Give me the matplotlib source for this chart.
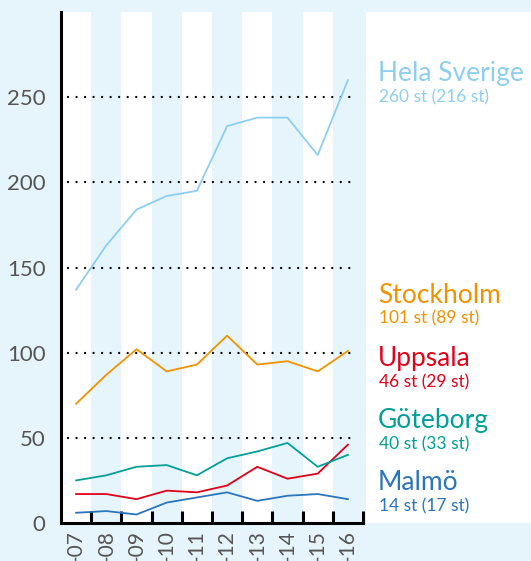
import numpy as np
import matplotlib.pyplot as plt

plt.rcParams['font.family'] = ['Lato', 'DejaVu Sans']

seasons = ["2006-07", "2007-08", "2008-09", "2009-10", "2010-11",
           "2011-12", "2012-13", "2013-14", "2014-15", "2015-16"]
hela = [137, 163, 184, 192, 195, 233, 238, 238, 216, 260]
stockholm = [70, 87, 102, 89, 93, 110, 93, 95, 89, 101]
uppsala = [17, 17, 14, 19, 18, 22, 33, 26, 29, 46]
goteborg = [25, 28, 33, 34, 28, 38, 42, 47, 33, 40]
malmo = [6, 7, 5, 12, 15, 18, 13, 16, 17, 14]

names = ["Hela Sverige", "Stockholm", "Uppsala", "Göteborg", "Malmö"]
series = [hela, stockholm, uppsala, goteborg, malmo]
colors = ["#8dcff0", "#f39200", "#e2001a", "#00a096", "#2a75bb"]
yticks = [0, 50, 100, 150, 200, 250]

bg = "#e6f4fc"
W, H = 531, 561

fig = plt.figure(figsize=(W / 100, H / 100), dpi=100, facecolor=bg)

# white panel behind the labels
fig.patches.append(plt.Rectangle((366 / W, 1 - 523 / H), (W - 366) / W, (523 - 12) / H,
                                 transform=fig.transFigure, facecolor="white",
                                 edgecolor="none", zorder=0))

ax = fig.add_axes([61 / W, 1 - 523 / H, (363 - 61) / W, (523 - 12) / H])
ax.set_facecolor(bg)
n = len(seasons)
x = np.arange(n) + 0.5
for i in range(0, n, 2):
    ax.axvspan(i, i + 1, color="white", lw=0, zorder=0)

ax.hlines(yticks[1:], 0.23, 9.8, colors="black", linestyles=(0, (0.01, 3.6)),
          lw=1.7, zorder=1)
for line in ax.collections:
    line.set_capstyle("round")

for vals, c in zip(series, colors):
    ax.plot(x, vals, color=c, lw=1.3, zorder=3)

ax.set_xlim(0, n)
ax.set_ylim(0, 300)
for s in ["top", "right"]:
    ax.spines[s].set_visible(False)
ax.spines["left"].set_linewidth(2.2)
ax.spines["bottom"].set_linewidth(2.2)

ax.set_xticks(np.arange(1, n + 1))
ax.set_xticklabels([])
ax.tick_params(axis="x", which="major", direction="in", length=9, width=2.2)
ax.set_xticks(x, minor=True)
# only the tail of each season fits below the axis
ax.set_xticklabels([s[-3:] for s in seasons], minor=True, rotation=90,
                   fontsize=15, color="#555555")
ax.tick_params(axis="x", which="minor", length=0, pad=5)

ax.set_yticks(yticks)
ax.set_yticklabels([str(v) for v in yticks], fontsize=16, color="#555555")
ax.tick_params(axis="y", length=0, pad=11)

# labels at the right
labels = [("Hela Sverige", "260 st (216 st)", 81, 102),
          ("Stockholm", "101 st (89 st)", 303, 323),
          ("Uppsala", "46 st (29 st)", 366, 387),
          ("Göteborg", "40 st (33 st)", 428, 449),
          ("Malmö", "14 st (17 st)", 490, 511)]
for (name, sub, b1, b2), c in zip(labels, colors):
    fig.text(378 / W, 1 - b1 / H, name, color=c, fontsize=19, va="baseline", ha="left")
    fig.text(379 / W, 1 - b2 / H, sub, color=c, fontsize=12.5, va="baseline", ha="left")

fig.savefig("out.png", dpi=100, facecolor=bg)
